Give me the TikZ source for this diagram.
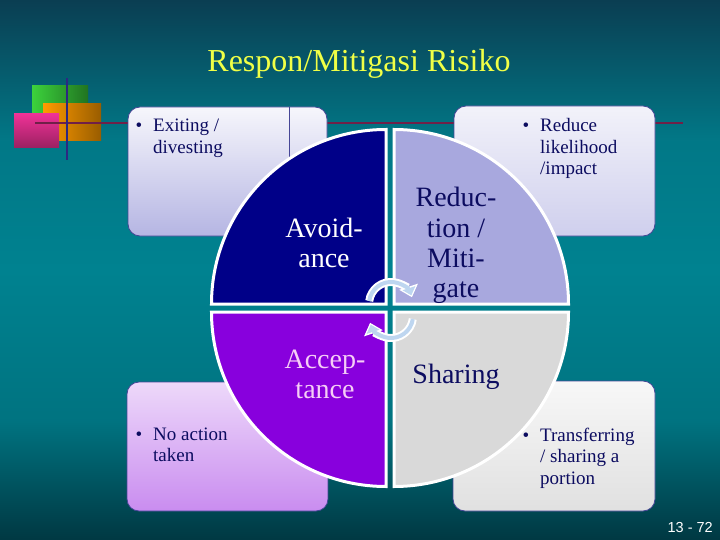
\documentclass[tikz,border=0pt]{standalone}
\usepackage{fontspec}
\setmainfont{Liberation Serif}
\newfontfamily\pagenofont{Liberation Sans}
\usetikzlibrary{arrows.meta}

\definecolor{slidetop}{RGB}{10,62,82}
\definecolor{slidemid}{RGB}{0,130,144}
\definecolor{slidebottom}{RGB}{0,56,66}
\definecolor{titleyellow}{RGB}{240,255,70}
\definecolor{risknavy}{RGB}{0,0,136}
\definecolor{risklavender}{RGB}{168,168,222}
\definecolor{riskviolet}{RGB}{136,0,221}
\definecolor{riskgray}{RGB}{217,217,217}
\definecolor{riskink}{RGB}{12,12,96}
\definecolor{riskpink}{RGB}{246,206,246}
\definecolor{boxedge}{RGB}{70,70,150}
\definecolor{crossred}{RGB}{112,32,72}
\definecolor{crossblue}{RGB}{45,40,130}
\definecolor{arrowblue}{RGB}{190,214,240}
\definecolor{decogreen}{RGB}{60,210,60}
\definecolor{decoorange}{RGB}{255,155,0}
\definecolor{decopink}{RGB}{238,50,150}

\pgfdeclareverticalshading{slidebg}{100bp}{color(0bp)=(slidebottom); color(25bp)=(slidebottom);
  color(36bp)=(slidemid!80!slidebottom); color(50bp)=(slidemid); color(62bp)=(slidemid!85!slidetop);
  color(75bp)=(slidetop); color(100bp)=(slidetop)}

\newcommand{\bul}[1]{\makebox[0pt][r]{\textbullet\hspace{11pt}}\begin{tabular}[t]{@{}l@{}}#1\end{tabular}}
\newcommand{\qlines}[1]{\begin{tabular}[t]{@{}c@{}}#1\end{tabular}}

\begin{document}
\begin{tikzpicture}[x=1pt,y=-1pt,
    riskbox/.style={draw=boxedge,line width=.8pt,rounded corners=12pt},
    bulletnote/.style={anchor=base west,inner sep=0pt,text=riskink,font=\fontsize{19}{21.5}\selectfont},
    quadlabel/.style={anchor=base,inner sep=0pt,font=\fontsize{28}{30.3}\selectfont},
    turnrim/.style={white,line width=8pt,-{Triangle[length=11pt,width=19pt]}},
    turnfill/.style={arrowblue,line width=4pt,-{Triangle[length=7.5pt,width=13pt]},shorten >=2pt}]
    \useasboundingbox (0,0) rectangle (720,540);
    \shade[shading=slidebg] (0,0) rectangle (720,540);

    \shade[left color=decogreen,right color=decogreen!55!black] (32,86) rectangle (88,125);
    \shade[left color=decoorange,right color=decoorange!60!black] (43,104) rectangle (101,141);
    \shade[top color=decopink,bottom color=decopink!65!black] (14,114) rectangle (59,148);
    \draw[crossred,line width=1.8pt] (35,123) -- (683,123);
    \draw[crossblue,line width=2pt] (67,78) -- (67,160);

    \draw[riskbox,top color=white!90!risklavender,bottom color=risklavender!85!white] (128,107) rectangle (327,236);
    \draw[boxedge,line width=.8pt] (289,107) -- (289,236);
    \draw[riskbox,top color=white!85!risklavender,bottom color=risklavender!55!white] (454,106) rectangle (655,236);
    \draw[riskbox,top color=white!85!riskviolet,bottom color=riskviolet!45!white] (127,382) rectangle (328,511);
    \draw[riskbox,top color=white!97!black,bottom color=white!88!black] (453,381) rectangle (655,511);

    \foreach \dx/\dy/\a/\col in {-4/-4/180/risknavy,4/-4/270/risklavender,4/4/0/riskgray,-4/4/90/riskviolet} {
      \filldraw[fill=\col,draw=white,line width=3pt] ({390+\dx},{308+\dy}) -- ++(\a:174.5)
        arc[start angle=\a,end angle=\a+90,radius=174.5] -- cycle;
    }

    \draw[turnrim] (391,304) ++(-172:22) arc[start angle=-172,end angle=-18,radius=22];
    \draw[turnfill] (391,304) ++(-172:22) arc[start angle=-172,end angle=-18,radius=22];
    \draw[turnrim] (391,316) ++(8:22) arc[start angle=8,end angle=162,radius=22];
    \draw[turnfill] (391,316) ++(8:22) arc[start angle=8,end angle=162,radius=22];

    \node[quadlabel,text=white] (avoid) at (324,237) {\qlines{Avoid-\\ance}};
    \node[quadlabel,text=riskink] (reduce) at (456,207) {\qlines{Reduc-\\tion /\\Miti-\\gate}};
    \node[quadlabel,text=riskpink] (accept) at (325,368) {\qlines{Accep-\\tance}};
    \node[quadlabel,text=riskink] (share) at (456,383) {Sharing};

    \node[bulletnote] (exiting) at (153,132) {\bul{Exiting /\\divesting}};
    \node[bulletnote] (likelihood) at (540,132) {\bul{Reduce\\likelihood\\/impact}};
    \node[bulletnote] (noaction) at (153,440) {\bul{No action\\taken}};
    \node[bulletnote] (transfer) at (540,441) {\bul{Transferring\\/ sharing a\\portion}};

    \node[anchor=base,inner sep=0pt,text=titleyellow,font=\fontsize{32}{36}\selectfont] (title) at (359,72) {Respon/Mitigasi Risiko};
    \node[anchor=base east,inner sep=0pt,text=white,font=\pagenofont\fontsize{14.5}{16}\selectfont] (pageno) at (713,532) {13 - 72};
  \end{tikzpicture}
\end{document}
